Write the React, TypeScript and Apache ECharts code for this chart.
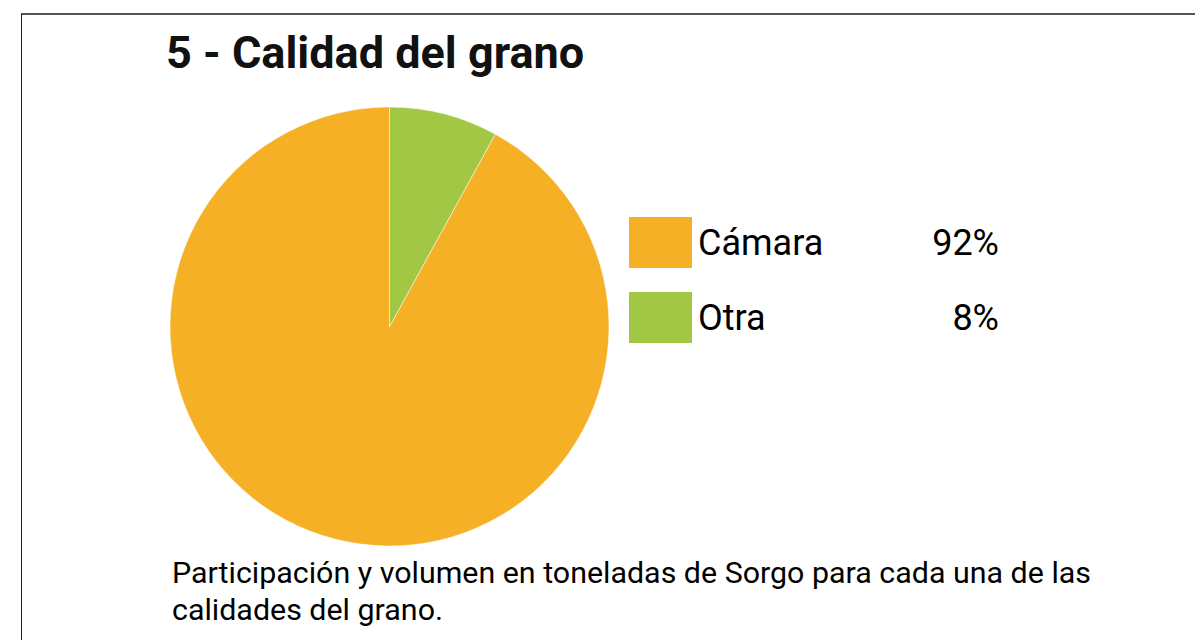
import React, { useEffect, useRef } from "react";
import * as echarts from "echarts";

const categories = ["Cámara", "Otra"];
const shares = [92, 8];
const colors = ["#F6B026", "#A2C745"];
const titleText = "5 - Calidad del grano";
const noteText = "Participación y volumen en toneladas de Sorgo para cada una de las\ncalidades del grano.";

export default function App() {
  const ref = useRef<HTMLDivElement>(null);
  useEffect(() => {
    if (!ref.current) return;
    const chart = echarts.init(ref.current, null, { renderer: "svg" });
    const total = shares.reduce((a, b) => a + b, 0);
    const pctOf: Record<string, string> = {};
    categories.forEach((c, i) => {
      pctOf[c] = Math.round((shares[i] / total) * 100) + "%";
    });
    chart.setOption({
      animation: false,
      backgroundColor: "#fff",
      textStyle: { fontFamily: "Roboto" },
      title: [
        {
          text: titleText,
          left: 166,
          top: 30,
          padding: 0,
          textStyle: { fontFamily: "Roboto", fontSize: 45, fontWeight: "bold", color: "#111" },
        },
        {
          text: noteText,
          left: 172,
          top: 554,
          padding: 0,
          textStyle: { fontFamily: "Roboto", fontSize: 30.4, fontWeight: 400, color: "#000", lineHeight: 37 },
        },
      ],
      legend: {
        orient: "vertical",
        left: 629,
        top: 217,
        padding: 0,
        itemWidth: 63,
        itemHeight: 51,
        itemGap: 24,
        icon: "rect",
        itemStyle: { borderWidth: 0 },
        data: categories,
        formatter: (name: string) => `{n|${name}}{v|${pctOf[name]}}`,
        textStyle: {
          fontFamily: "Roboto",
          fontSize: 36,
          color: "#000",
          rich: {
            n: { fontFamily: "Roboto", fontSize: 36, color: "#000", width: 200, padding: [0, 0, 0, 1] },
            v: { fontFamily: "Roboto", fontSize: 36, color: "#000", width: 101, align: "right" },
          },
        },
      },
      series: [
        {
          type: "pie",
          center: [389.5, 326.5],
          radius: 219.5,
          startAngle: 90,
          clockwise: false,
          label: { show: false },
          labelLine: { show: false },
          emphasis: { disabled: true },
          itemStyle: { borderColor: "#fff", borderWidth: 0.5 },
          data: categories.map((c, i) => ({ name: c, value: shares[i], itemStyle: { color: colors[i] } })),
        },
      ],
      graphic: [
        { type: "line", shape: { x1: 21, y1: 14, x2: 1195, y2: 14 }, style: { stroke: "#555", lineWidth: 2 } },
        { type: "line", shape: { x1: 21.5, y1: 14, x2: 21.5, y2: 640 }, style: { stroke: "#222", lineWidth: 1 } },
      ],
    });
    return () => chart.dispose();
  }, []);
  return <div ref={ref} style={{ position: "absolute", left: 0, top: 0, width: 1195, height: 640 }} />;
}
